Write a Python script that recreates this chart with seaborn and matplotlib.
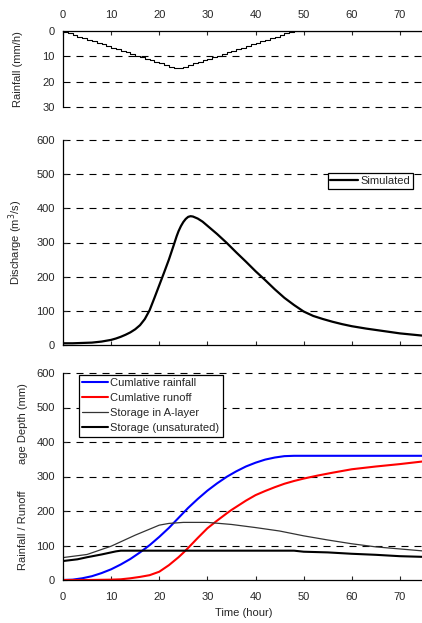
import numpy as np
import pandas as pd
import matplotlib
matplotlib.use("Agg")
import matplotlib.pyplot as plt
import seaborn as sns

# ---------------- data ----------------
rain_hours = list(range(0, 76))
rain_rate = [0.3, 0.9, 1.6, 2.2, 2.8, 3.4, 4.1, 4.7, 5.3, 5.9, 6.6, 7.2,
             7.8, 8.4, 9.1, 9.7, 10.3, 10.9, 11.6, 12.2, 12.8, 13.4, 14.1, 14.6,
             14.6, 14.1, 13.4, 12.8, 12.2, 11.6, 10.9, 10.3, 9.7, 9.1, 8.4, 7.8,
             7.2, 6.6, 5.9, 5.3, 4.7, 4.1, 3.4, 2.8, 2.2, 1.6, 0.9, 0.3,
             0, 0, 0, 0, 0, 0, 0, 0, 0, 0, 0, 0, 0, 0, 0, 0, 0, 0, 0, 0,
             0, 0, 0, 0, 0, 0, 0, 0]

q_time = [0, 2, 4, 6, 8, 10, 11, 12, 13, 14, 15, 16, 17, 18, 19, 20, 21, 22,
          23, 23.6, 24, 24.5, 25, 25.5, 26, 26.5, 27, 28, 29, 30, 31, 32, 33,
          34, 36, 38, 40, 42, 44, 46, 48, 50, 52, 54, 56, 58, 60, 63, 66, 70, 75]
q_sim = [5, 5, 6, 7, 10, 15, 19, 24, 30, 37, 46, 58, 76, 102, 138, 175, 212,
         250, 292, 318, 333, 348, 360, 369, 375, 377, 376, 370, 361, 349, 337,
         325, 312, 299, 271, 244, 216, 190, 163, 138, 117, 98, 85, 76, 68, 61,
         55, 48, 42, 34, 27]

cr_time = [0, 2, 4, 6, 8, 10, 12, 14, 16, 18, 20, 22, 24, 26, 28, 30, 32, 34,
           36, 38, 40, 42, 44, 46, 48, 75]
cum_rain = [0, 1, 5, 11, 20, 31, 45, 61, 80, 101, 125, 151, 180, 209, 235,
            259, 280, 299, 315, 329, 340, 349, 355, 359, 360, 360]

ro_time = [0, 5, 10, 12, 14, 15, 16, 18, 20, 22, 24, 25, 26, 28, 30, 32, 34,
           35, 36, 38, 40, 42, 44, 46, 48, 50, 53, 56, 60, 65, 70, 75]
cum_runoff = [0, 0, 1, 2, 5, 7, 9, 14, 24, 43, 66, 79, 93, 122, 150, 172, 193,
              203, 212, 230, 246, 258, 269, 279, 287, 294, 303, 311, 321, 329,
              336, 344]

sa_time = [0, 5, 10, 15, 20, 22, 25, 30, 35, 40, 45, 50, 55, 60, 65, 70, 75]
stor_a = [65, 74, 98, 130, 159, 164, 167, 167, 161, 152, 142, 128, 116, 105,
          96, 90, 84]

su_time = [0, 3, 5, 8, 10, 11, 12, 48, 50, 55, 60, 65, 70, 75]
stor_u = [55, 60, 66, 74, 80, 83, 85, 85, 82, 80, 76, 73, 69, 67]

x_ticks = [0, 10, 20, 30, 40, 50, 60, 70]

# ---------------- style ----------------
sns.set_style("white")
plt.rcParams['font.family'] = ['Liberation Sans', 'DejaVu Sans']
plt.rcParams['font.size'] = 8
plt.rcParams['axes.linewidth'] = 0.9
plt.rcParams['axes.edgecolor'] = 'black'

W, H = 422, 623
fig = plt.figure(figsize=(W / 100, H / 100), dpi=100)

def fax(left, top, right, bottom):
    return fig.add_axes([left / W, 1 - bottom / H, (right - left) / W, (bottom - top) / H])

DASH = (0, (6.3, 5.4))
GRID = dict(color='black', lw=0.8, linestyle=DASH, clip_on=False)

ax1 = fax(63, 31, 424, 107)
ax2 = fax(63, 140, 424, 345)
ax3 = fax(63, 373, 424, 580)

# ---- rainfall ----
df_r = pd.DataFrame({'t': rain_hours, 'r': rain_rate})
sns.lineplot(data=df_r, x='t', y='r', ax=ax1, color='black', lw=0.8,
             drawstyle='steps-post')
ax1.set_xlim(0, 75)
ax1.set_ylim(30, 0)
ax1.set_yticks([0, 10, 20, 30])
for v in [10, 20, 30]:
    ax1.axhline(v, **GRID, zorder=0)
ax1.set_xticks(x_ticks)
ax1.xaxis.tick_top()
ax1.tick_params(axis='x', direction='in', length=3, width=0.8, pad=8,
                top=True, bottom=False, labeltop=True, labelbottom=False)
ax1.tick_params(axis='y', direction='in', length=3, width=0.8, pad=6)
for s in ['right', 'bottom']:
    ax1.spines[s].set_visible(False)
ax1.set_xlabel('')
ax1.set_ylabel('Rainfall (mm/h)')
ax1.yaxis.set_label_coords(-40 / 361, 0.5)

# ---- discharge ----
df_q = pd.DataFrame({'t': q_time, 'q': q_sim})
sns.lineplot(data=df_q, x='t', y='q', ax=ax2, color='black', lw=1.6,
             label='Simulated')
ax2.set_xlim(0, 75)
ax2.set_ylim(0, 600)
ax2.set_yticks(range(0, 700, 100))
for v in range(100, 700, 100):
    ax2.axhline(v, **GRID, zorder=0)
ax2.set_xticks(x_ticks)
ax2.tick_params(axis='x', direction='in', length=3, width=0.8,
                labelbottom=False, bottom=True)
ax2.tick_params(axis='y', direction='in', length=3, width=0.8, pad=6, left=True)
for s in ['right', 'top']:
    ax2.spines[s].set_visible(False)
ax2.set_xlabel('')
ax2.set_ylabel('Discharge (m$^3$/s)')
ax2.yaxis.set_label_coords(-38 / 361, 0.5)
leg2 = ax2.legend(loc='upper right', bbox_to_anchor=((413 - 63) / 361, 1 - (173 - 140) / 205),
                  frameon=True, fancybox=False, framealpha=1, edgecolor='black',
                  handlelength=2.5, handletextpad=0.2, borderpad=0.25,
                  borderaxespad=0, fontsize=8)
leg2.get_frame().set_linewidth(0.9)

# ---- cumulative / storage ----
sns.lineplot(x=cr_time, y=cum_rain, ax=ax3, color='#0000ff', lw=1.5,
             label='Cumlative rainfall')
sns.lineplot(x=ro_time, y=cum_runoff, ax=ax3, color='#ff0000', lw=1.5,
             label='Cumlative runoff')
sns.lineplot(x=sa_time, y=stor_a, ax=ax3, color='#333333', lw=0.9,
             label='Storage in A-layer')
sns.lineplot(x=su_time, y=stor_u, ax=ax3, color='black', lw=1.5,
             label='Storage (unsaturated)')
ax3.set_xlim(0, 75)
ax3.set_ylim(0, 600)
ax3.set_yticks(range(0, 700, 100))
for v in range(100, 700, 100):
    ax3.axhline(v, **GRID, zorder=0)
ax3.set_xticks(x_ticks)
ax3.tick_params(axis='x', direction='in', length=3, width=0.8, pad=9, bottom=True)
ax3.tick_params(axis='y', direction='in', length=3, width=0.8, pad=6, left=True)
for s in ['right', 'top']:
    ax3.spines[s].set_visible(False)
ax3.set_xlabel('Time (hour)', labelpad=4)
ax3.set_ylabel('')
ax3.text(-40 / 361, (580 - 530) / 207, 'Rainfall / Runoff', rotation=90,
         transform=ax3.transAxes, ha='center', va='center', fontsize=8)
ax3.text(-40 / 361, (580 - 424) / 207, 'age Depth (mm)', rotation=90,
         transform=ax3.transAxes, ha='center', va='center', fontsize=8)
leg3 = ax3.legend(loc='upper left', bbox_to_anchor=((79 - 63) / 361, 1 - (375 - 373) / 207),
                  frameon=True, fancybox=False, framealpha=1, edgecolor='black',
                  handlelength=2.3, handletextpad=0.2, borderpad=0.3,
                  labelspacing=0.45, borderaxespad=0, fontsize=8)
leg3.get_frame().set_linewidth(0.9)

fig.savefig('out.png', dpi=100)
